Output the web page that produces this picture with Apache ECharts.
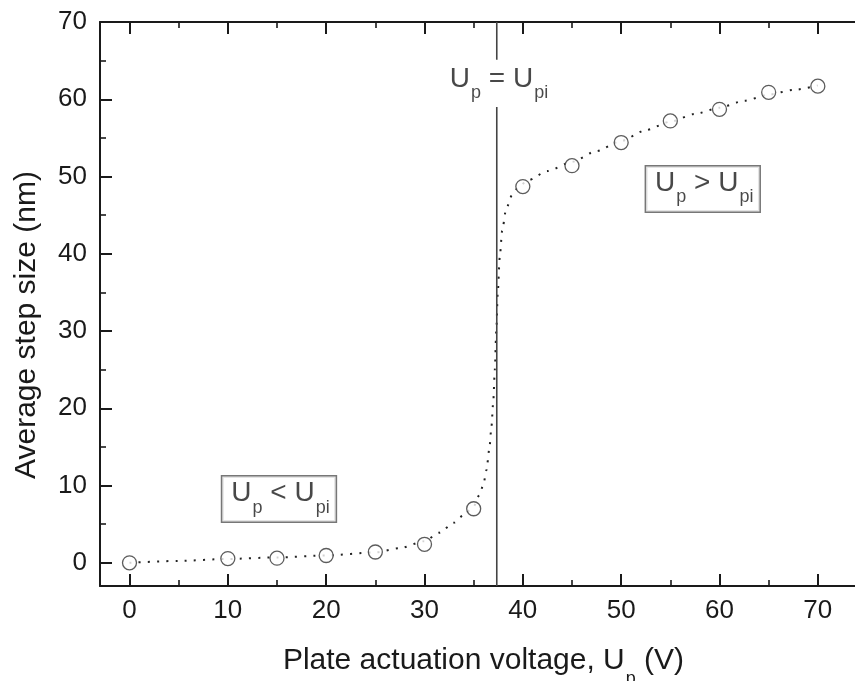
<!DOCTYPE html>
<html>
<head>
<meta charset="utf-8">
<script src="https://cdn.jsdelivr.net/npm/echarts@6/dist/echarts.min.js"></script>
<style>
  html, body { margin: 0; padding: 0; background: #fff; }
  #chart { width: 855px; height: 681px; }
</style>
</head>
<body>
<div id="chart"></div>
<script>
// Measured plate actuation voltage (V) and average step size (nm)
const voltage  = [0, 10, 15, 20, 25, 30, 35, 40, 45, 50, 55, 60, 65, 70];
const stepSize = [0, 0.55, 0.6, 0.95, 1.4, 2.4, 7.0, 48.7, 51.4, 54.4, 57.2, 58.7, 60.9, 61.7];

// Dotted trend curve through the measurements
const fitVoltage = [0, 5, 10, 15, 20, 25, 27.5, 30, 31.5, 33, 34, 35, 35.6, 36.0, 36.3, 36.6, 36.8,
                    37.0, 37.15, 37.3, 37.45, 37.65, 37.9, 38.3, 38.9, 39.6, 40.5, 42.5, 45, 47.5,
                    50, 52.5, 55, 57.5, 60, 62.5, 65, 67.5, 70];
const fitStep    = [0, 0.25, 0.5, 0.7, 0.95, 1.35, 1.9, 2.8, 3.9, 5.2, 6.2, 7.3, 8.8, 10.2, 12.0, 14.8, 17.5,
                    21.0, 25.0, 30.0, 35.0, 39.5, 43.0, 45.8, 47.6, 48.7, 49.5, 50.7, 51.9, 53.3,
                    54.6, 56.0, 57.1, 58.1, 58.9, 59.8, 60.6, 61.2, 61.8];

// Pull-in voltage marker and the break left open for its caption
const pullInVoltage = 37.35;
const pullInGap = [59.0, 65.1];

// Axis ranges and tick values
const xRange = [-3, 75];
const yRange = [-3, 70];
const xMajorTicks = [0, 10, 20, 30, 40, 50, 60, 70];
const xMinorTicks = [5, 15, 25, 35, 45, 55, 65];
const yMajorTicks = [0, 10, 20, 30, 40, 50, 60, 70];
const yMinorTicks = [5, 15, 25, 35, 45, 55, 65];

// Caption texts (rich-text markup, subscripts in the "s" style)
const captionPullIn = '{U|U}{s|p}{U| = U}{s|pi}';
const captionAbove  = '{U|U}{s|p}{U| > U}{s|pi}';
const captionBelow  = '{U|U}{s|p}{U| < U}{s|pi}';

const FONT = '"Liberation Sans", Arial, Helvetica, sans-serif';
const INK = '#1a1a1a';

const richCaption = {
  U: { fontFamily: FONT, fontSize: 28, color: INK, verticalAlign: 'top', lineHeight: 30 },
  s: { fontFamily: FONT, fontSize: 18, color: INK, verticalAlign: 'top', padding: [19, 0, 0, 1] }
};

function captionSeries(point, text, boxed) {
  return {
    type: 'scatter',
    data: [point],
    symbolSize: 0,
    silent: true,
    z: 6,
    label: {
      show: true,
      position: 'inside',
      formatter: text,
      rich: richCaption,
      backgroundColor: boxed ? '#fff' : 'transparent',
      borderColor: boxed ? '#555' : 'transparent',
      borderWidth: boxed ? 1.5 : 0,
      padding: boxed ? [3, 6, 5, 9] : 0
    }
  };
}

function makeAxis(kind, position, ticks, tickLen, showLine, showLabels, extra) {
  const range = kind === 'x' ? xRange : yRange;
  return Object.assign({
    type: 'value',
    position: position,
    min: range[0],
    max: range[1],
    axisLine: { show: showLine, onZero: false, lineStyle: { color: INK, width: 2 } },
    axisTick: {
      show: true, inside: true, length: tickLen, customValues: ticks,
      lineStyle: { color: INK, width: tickLen > 8 ? 2 : 1.6 }
    },
    axisLabel: showLabels ? {
      show: true, customValues: ticks, margin: kind === 'x' ? 12 : 13,
      fontFamily: FONT, fontSize: 26, color: INK
    } : { show: false },
    splitLine: { show: false },
    minorTick: { show: false }
  }, extra || {});
}

const chart = echarts.init(document.getElementById('chart'), null, { renderer: 'canvas' });

chart.setOption({
  animation: false,
  backgroundColor: '#fff',
  // The frame runs a little past the right edge of the canvas, as in the original layout
  grid: { left: 100, top: 22, width: 767, height: 564, containLabel: false, outerBoundsMode: 'none' },
  xAxis: [
    makeAxis('x', 'bottom', xMajorTicks, 12, true, true, {
      name: '{m|Plate actuation voltage, U}{s|p}{m| (V)}',
      nameLocation: 'middle',
      nameGap: 60,
      nameTextStyle: {
        rich: {
          m: { fontFamily: FONT, fontSize: 30, color: INK, verticalAlign: 'top', lineHeight: 32 },
          s: { fontFamily: FONT, fontSize: 18, color: INK, verticalAlign: 'top', padding: [24, 0, 0, 1] }
        }
      }
    }),
    makeAxis('x', 'bottom', xMinorTicks, 6, false, false),
    makeAxis('x', 'top', xMajorTicks, 12, true, false),
    makeAxis('x', 'top', xMinorTicks, 6, false, false)
  ],
  yAxis: [
    makeAxis('y', 'left', yMajorTicks, 12, true, true, {
      name: 'Average step size (nm)',
      nameLocation: 'middle',
      nameGap: 58,
      nameTextStyle: { fontFamily: FONT, fontSize: 30, color: INK, padding: [0, 42, 0, 0] }
    }),
    makeAxis('y', 'left', yMinorTicks, 6, false, false),
    makeAxis('y', 'right', yMajorTicks, 12, false, false),
    makeAxis('y', 'right', yMinorTicks, 6, false, false)
  ],
  series: [
    {
      type: 'line',
      data: fitVoltage.map((v, i) => [v, fitStep[i]]),
      showSymbol: false,
      symbol: 'none',
      smooth: 0.25,
      smoothMonotone: 'x',
      silent: true,
      z: 2,
      lineStyle: { color: '#222', width: 2, type: [2, 7.2] }
    },
    {
      type: 'line',
      data: [[pullInVoltage, yRange[0]], [pullInVoltage, pullInGap[0]]],
      symbol: 'none',
      silent: true,
      z: 3,
      lineStyle: { color: '#444', width: 1.6 }
    },
    {
      type: 'line',
      data: [[pullInVoltage, pullInGap[1]], [pullInVoltage, yRange[1]]],
      symbol: 'none',
      silent: true,
      z: 3,
      lineStyle: { color: '#444', width: 1.6 }
    },
    {
      type: 'scatter',
      data: voltage.map((v, i) => [v, stepSize[i]]),
      symbol: 'circle',
      symbolSize: 14,
      silent: true,
      z: 4,
      itemStyle: { color: '#fff', borderColor: '#333', borderWidth: 1.3 }
    },
    captionSeries([37.58, 62.0], captionPullIn, false),
    captionSeries([58.3, 48.4], captionAbove, true),
    captionSeries([15.2, 8.25], captionBelow, true)
  ]
});
</script>
</body>
</html>
